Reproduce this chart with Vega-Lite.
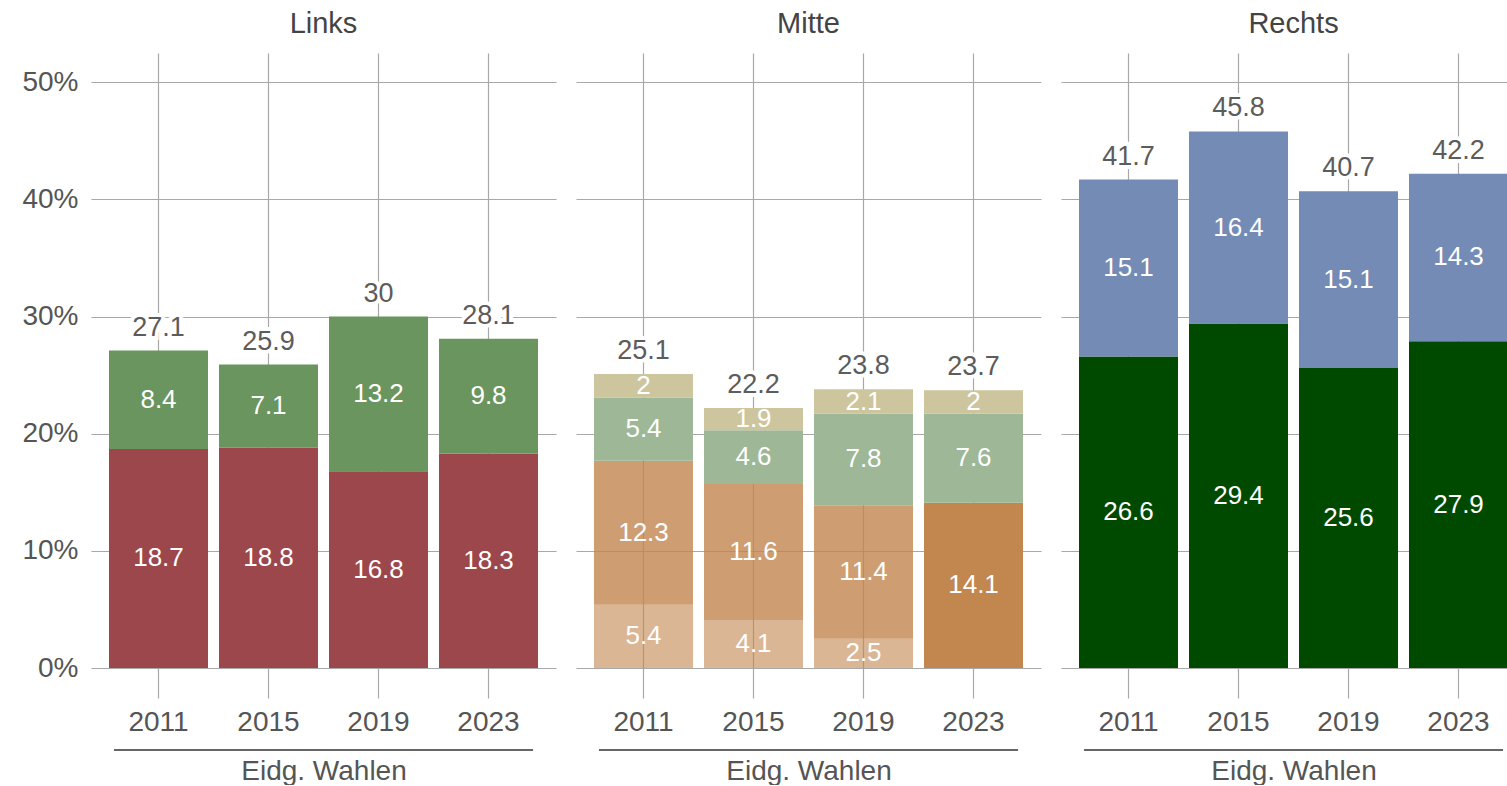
{
  "$schema": "https://vega.github.io/schema/vega-lite/v6.json",
  "padding": {"left": 21, "top": 10, "right": 0, "bottom": 0},
  "background": "white",
  "config": {
    "view": {"stroke": null},
    "font": "Liberation Sans",
    "title": {"fontSize": 29, "color": "#444444", "fontWeight": "normal", "frame": "group", "anchor": "middle", "offset": 14},
    "axisX": {
      "labelAngle": 0, "domain": false, "ticks": true, "tickSize": 30,
      "tickColor": "#a8a8a8", "tickWidth": 1.2, "grid": true, "gridColor": "#a8a8a8", "gridWidth": 1.2,
      "labelFontSize": 28, "labelColor": "#555555", "labelPadding": 10,
      "titleFontSize": 28, "titleColor": "#555555", "titleFontWeight": "normal", "titlePadding": 21
    },
    "axisY": {"domain": false, "ticks": false, "gridColor": "#a8a8a8", "gridWidth": 1.2, "labelPadding": 13, "labelFontSize": 28, "labelColor": "#555555"}
  },
  "data": {"values": [
    {"group": "Links", "year": "2011", "party": "SP", "ord": 1, "value": 18.7},
    {"group": "Links", "year": "2015", "party": "SP", "ord": 1, "value": 18.8},
    {"group": "Links", "year": "2019", "party": "SP", "ord": 1, "value": 16.8},
    {"group": "Links", "year": "2023", "party": "SP", "ord": 1, "value": 18.3},
    {"group": "Links", "year": "2011", "party": "Grüne", "ord": 2, "value": 8.4},
    {"group": "Links", "year": "2015", "party": "Grüne", "ord": 2, "value": 7.1},
    {"group": "Links", "year": "2019", "party": "Grüne", "ord": 2, "value": 13.2},
    {"group": "Links", "year": "2023", "party": "Grüne", "ord": 2, "value": 9.8},
    {"group": "Mitte", "year": "2011", "party": "BDP", "ord": 1, "value": 5.4},
    {"group": "Mitte", "year": "2015", "party": "BDP", "ord": 1, "value": 4.1},
    {"group": "Mitte", "year": "2019", "party": "BDP", "ord": 1, "value": 2.5},
    {"group": "Mitte", "year": "2011", "party": "CVP", "ord": 2, "value": 12.3},
    {"group": "Mitte", "year": "2015", "party": "CVP", "ord": 2, "value": 11.6},
    {"group": "Mitte", "year": "2019", "party": "CVP", "ord": 2, "value": 11.4},
    {"group": "Mitte", "year": "2023", "party": "Mitte", "ord": 2, "value": 14.1},
    {"group": "Mitte", "year": "2011", "party": "GLP", "ord": 3, "value": 5.4},
    {"group": "Mitte", "year": "2015", "party": "GLP", "ord": 3, "value": 4.6},
    {"group": "Mitte", "year": "2019", "party": "GLP", "ord": 3, "value": 7.8},
    {"group": "Mitte", "year": "2023", "party": "GLP", "ord": 3, "value": 7.6},
    {"group": "Mitte", "year": "2011", "party": "EVP", "ord": 4, "value": 2},
    {"group": "Mitte", "year": "2015", "party": "EVP", "ord": 4, "value": 1.9},
    {"group": "Mitte", "year": "2019", "party": "EVP", "ord": 4, "value": 2.1},
    {"group": "Mitte", "year": "2023", "party": "EVP", "ord": 4, "value": 2},
    {"group": "Rechts", "year": "2011", "party": "SVP", "ord": 1, "value": 26.6},
    {"group": "Rechts", "year": "2015", "party": "SVP", "ord": 1, "value": 29.4},
    {"group": "Rechts", "year": "2019", "party": "SVP", "ord": 1, "value": 25.6},
    {"group": "Rechts", "year": "2023", "party": "SVP", "ord": 1, "value": 27.9},
    {"group": "Rechts", "year": "2011", "party": "FDP", "ord": 2, "value": 15.1},
    {"group": "Rechts", "year": "2015", "party": "FDP", "ord": 2, "value": 16.4},
    {"group": "Rechts", "year": "2019", "party": "FDP", "ord": 2, "value": 15.1},
    {"group": "Rechts", "year": "2023", "party": "FDP", "ord": 2, "value": 14.3}
  ]},
  "spacing": 20,
  "resolve": {"scale": {"y": "independent", "x": "independent"}},
  "hconcat": [
    {
      "title": "Links",
      "width": 465, "height": 615,
      "transform": [{"filter": {"field": "group", "equal": "Links"}}],
      "encoding": {
        "x": {"field": "year", "type": "nominal", "title": "Eidg. Wahlen", "scale": {"paddingInner": 0.1, "paddingOuter": 0.1636}}
      },
      "layer": [
        {
          "mark": {"type": "bar"},
          "encoding": {
            "y": {"field": "value", "type": "quantitative", "stack": "zero", "title": null,
              "scale": {"domain": [0, 52.5], "nice": false},
              "axis": {"values": [0, 10, 20, 30, 40, 50], "labelExpr": "datum.value + '%'"}},
            "color": {"field": "party", "type": "nominal", "legend": null,
              "scale": {"domain": ["SP", "Grüne", "BDP", "CVP", "Mitte", "GLP", "EVP", "SVP", "FDP"],
                "range": ["#9c474c", "#6a955e", "#c2864f", "#c2864f", "#c2864f", "#9eb797", "#cdc59d", "#004a00", "#738bb5"]}},
            "order": {"field": "ord", "type": "quantitative"}
          }
        },
        {
          "mark": {"type": "text", "color": "white", "fontSize": 26, "baseline": "middle"},
          "encoding": {
            "y": {"field": "value", "type": "quantitative", "stack": "zero", "bandPosition": 0.5},
            "detail": {"field": "party", "type": "nominal"},
            "order": {"field": "ord", "type": "quantitative"},
            "text": {"field": "value", "type": "quantitative", "format": ".3~g"}
          }
        },
        {
          "mark": {"type": "text", "dy": -23, "fontSize": 27, "baseline": "middle", "color": "white", "stroke": "white", "strokeWidth": 8},
          "encoding": {
            "y": {"aggregate": "sum", "field": "value", "type": "quantitative"},
            "text": {"aggregate": "sum", "field": "value", "type": "quantitative", "format": ".3~g"}
          }
        },
        {
          "mark": {"type": "text", "dy": -23, "fontSize": 27, "baseline": "middle", "color": "#5c5c5c"},
          "encoding": {
            "y": {"aggregate": "sum", "field": "value", "type": "quantitative"},
            "text": {"aggregate": "sum", "field": "value", "type": "quantitative", "format": ".3~g"}
          }
        },
        {
          "transform": [{"aggregate": [{"op": "count", "as": "n"}], "groupby": ["group"]}],
          "mark": {"type": "rule", "color": "#666666", "strokeWidth": 2},
          "encoding": {
            "x": {"datum": "2011", "bandPosition": 0.05},
            "x2": {"datum": "2023", "bandPosition": 0.95},
            "y": {"datum": -7}
          }
        }
      ]
    },
    {
      "title": "Mitte",
      "width": 465, "height": 615,
      "transform": [{"filter": {"field": "group", "equal": "Mitte"}}],
      "encoding": {
        "x": {"field": "year", "type": "nominal", "title": "Eidg. Wahlen", "scale": {"paddingInner": 0.1, "paddingOuter": 0.1636}}
      },
      "layer": [
        {
          "mark": {"type": "bar"},
          "encoding": {
            "y": {"field": "value", "type": "quantitative", "stack": "zero", "title": null,
              "scale": {"domain": [0, 52.5], "nice": false},
              "axis": {"values": [0, 10, 20, 30, 40, 50], "labels": false, "minExtent": 0, "maxExtent": 0}},
            "color": {"field": "party", "type": "nominal", "legend": null,
              "scale": {"domain": ["SP", "Grüne", "BDP", "CVP", "Mitte", "GLP", "EVP", "SVP", "FDP"],
                "range": ["#9c474c", "#6a955e", "#c2864f", "#c2864f", "#c2864f", "#9eb797", "#cdc59d", "#004a00", "#738bb5"]}},
            "opacity": {"condition": [
              {"test": "datum.party === 'BDP'", "value": 0.6},
              {"test": "datum.party === 'CVP'", "value": 0.8}
            ], "value": 1},
            "order": {"field": "ord", "type": "quantitative"}
          }
        },
        {
          "mark": {"type": "text", "color": "white", "fontSize": 26, "baseline": "middle"},
          "encoding": {
            "y": {"field": "value", "type": "quantitative", "stack": "zero", "bandPosition": 0.5},
            "detail": {"field": "party", "type": "nominal"},
            "order": {"field": "ord", "type": "quantitative"},
            "text": {"field": "value", "type": "quantitative", "format": ".3~g"}
          }
        },
        {
          "mark": {"type": "text", "dy": -23, "fontSize": 27, "baseline": "middle", "color": "white", "stroke": "white", "strokeWidth": 8},
          "encoding": {
            "y": {"aggregate": "sum", "field": "value", "type": "quantitative"},
            "text": {"aggregate": "sum", "field": "value", "type": "quantitative", "format": ".3~g"}
          }
        },
        {
          "mark": {"type": "text", "dy": -23, "fontSize": 27, "baseline": "middle", "color": "#5c5c5c"},
          "encoding": {
            "y": {"aggregate": "sum", "field": "value", "type": "quantitative"},
            "text": {"aggregate": "sum", "field": "value", "type": "quantitative", "format": ".3~g"}
          }
        },
        {
          "transform": [{"aggregate": [{"op": "count", "as": "n"}], "groupby": ["group"]}],
          "mark": {"type": "rule", "color": "#666666", "strokeWidth": 2},
          "encoding": {
            "x": {"datum": "2011", "bandPosition": 0.05},
            "x2": {"datum": "2023", "bandPosition": 0.95},
            "y": {"datum": -7}
          }
        }
      ]
    },
    {
      "title": "Rechts",
      "width": 465, "height": 615,
      "transform": [{"filter": {"field": "group", "equal": "Rechts"}}],
      "encoding": {
        "x": {"field": "year", "type": "nominal", "title": "Eidg. Wahlen", "scale": {"paddingInner": 0.1, "paddingOuter": 0.1636}}
      },
      "layer": [
        {
          "mark": {"type": "bar"},
          "encoding": {
            "y": {"field": "value", "type": "quantitative", "stack": "zero", "title": null,
              "scale": {"domain": [0, 52.5], "nice": false},
              "axis": {"values": [0, 10, 20, 30, 40, 50], "labels": false, "minExtent": 0, "maxExtent": 0}},
            "color": {"field": "party", "type": "nominal", "legend": null,
              "scale": {"domain": ["SP", "Grüne", "BDP", "CVP", "Mitte", "GLP", "EVP", "SVP", "FDP"],
                "range": ["#9c474c", "#6a955e", "#c2864f", "#c2864f", "#c2864f", "#9eb797", "#cdc59d", "#004a00", "#738bb5"]}},
            "order": {"field": "ord", "type": "quantitative"}
          }
        },
        {
          "mark": {"type": "text", "color": "white", "fontSize": 26, "baseline": "middle"},
          "encoding": {
            "y": {"field": "value", "type": "quantitative", "stack": "zero", "bandPosition": 0.5},
            "detail": {"field": "party", "type": "nominal"},
            "order": {"field": "ord", "type": "quantitative"},
            "text": {"field": "value", "type": "quantitative", "format": ".3~g"}
          }
        },
        {
          "mark": {"type": "text", "dy": -23, "fontSize": 27, "baseline": "middle", "color": "white", "stroke": "white", "strokeWidth": 8},
          "encoding": {
            "y": {"aggregate": "sum", "field": "value", "type": "quantitative"},
            "text": {"aggregate": "sum", "field": "value", "type": "quantitative", "format": ".3~g"}
          }
        },
        {
          "mark": {"type": "text", "dy": -23, "fontSize": 27, "baseline": "middle", "color": "#5c5c5c"},
          "encoding": {
            "y": {"aggregate": "sum", "field": "value", "type": "quantitative"},
            "text": {"aggregate": "sum", "field": "value", "type": "quantitative", "format": ".3~g"}
          }
        },
        {
          "transform": [{"aggregate": [{"op": "count", "as": "n"}], "groupby": ["group"]}],
          "mark": {"type": "rule", "color": "#666666", "strokeWidth": 2},
          "encoding": {
            "x": {"datum": "2011", "bandPosition": 0.05},
            "x2": {"datum": "2023", "bandPosition": 0.95},
            "y": {"datum": -7}
          }
        }
      ]
    }
  ]
}
